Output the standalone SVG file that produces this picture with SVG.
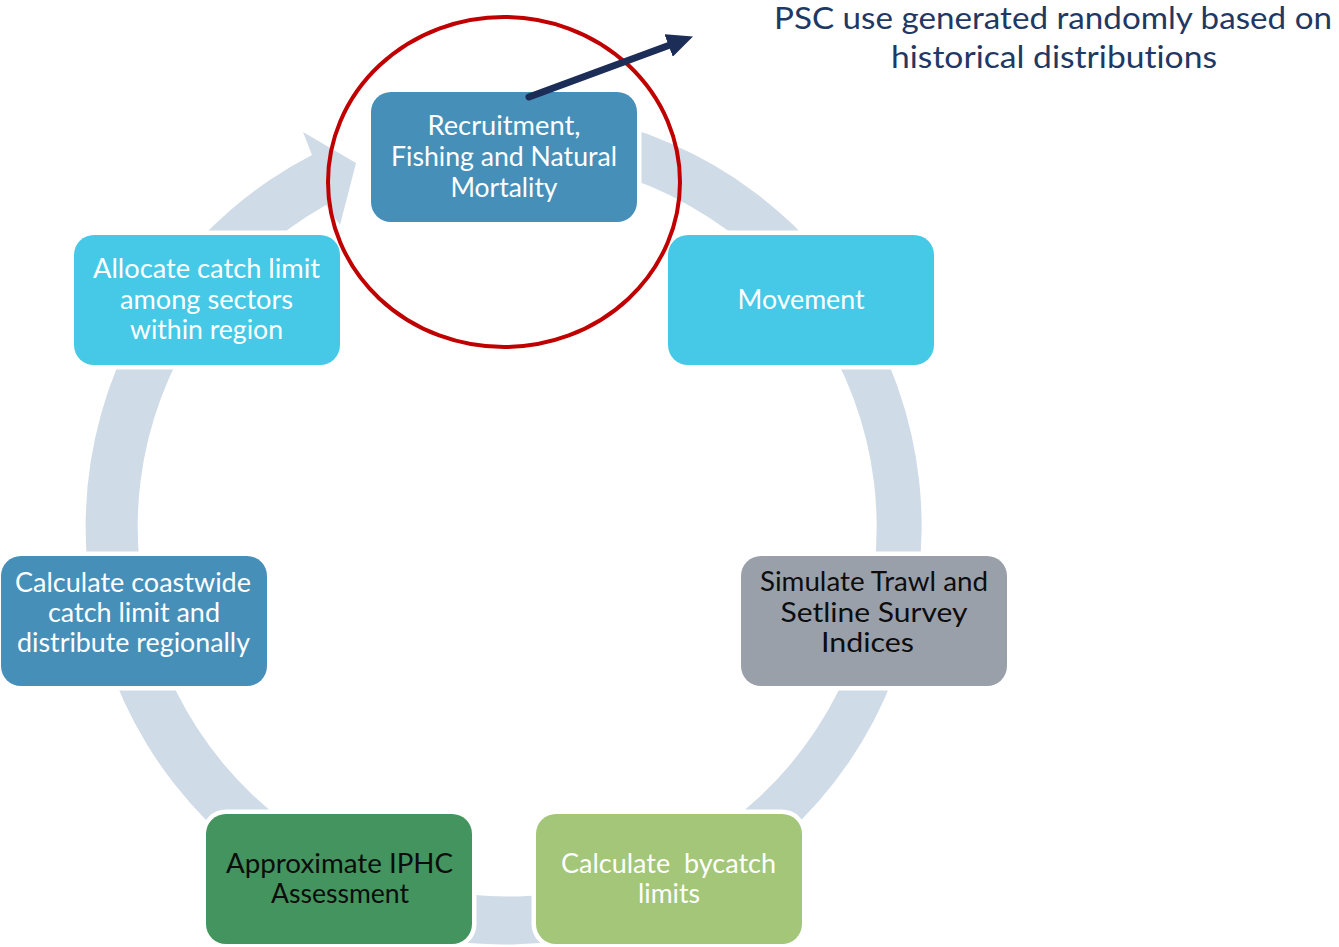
<svg xmlns="http://www.w3.org/2000/svg" width="1339" height="947" viewBox="0 0 1339 947">
  <style>
    text { font-variant-ligatures: none; }
    .box { stroke: #ffffff; stroke-width: 9; paint-order: stroke fill; }
    .lbl { font-family: Lato, "Open Sans", "Liberation Sans", sans-serif; font-size: 26px; text-anchor: middle; }
    .light { fill: #ffffff; }
    .dark { fill: #0d0d0d; }
    .title { font-family: Lato, "Open Sans", "Liberation Sans", sans-serif; font-size: 31px; fill: #1f3864; text-anchor: middle; }
  </style>
  <defs>
    <marker id="navyHead" markerUnits="userSpaceOnUse" viewBox="0 0 26 24" refX="0" refY="12" markerWidth="26" markerHeight="24" orient="auto">
      <path d="M0,0 L26,12 L0,24 Z" fill="#1c2d58"/>
    </marker>
  </defs>

  <rect width="1339" height="947" fill="#ffffff"/>

  <!-- circular flow arrow running clockwise round the cycle -->
  <g id="connectors">
    <path d="M576.6,114.9 A418,418 0 1 1 312,155 L303,132 L356,163 L340,225 L326,205 A369.5,369.5 0 1 0 568.2,162.6 Z" fill="#cfdbe6"/>
  </g>

  <g id="node-recruitment">
    <rect class="box" x="371" y="92" width="266" height="130" rx="20" fill="#468fb9"/>
    <text class="lbl light" x="504" y="135" textLength="153" lengthAdjust="spacingAndGlyphs">Recruitment,</text>
    <text class="lbl light" x="504" y="166" textLength="226" lengthAdjust="spacingAndGlyphs">Fishing and Natural</text>
    <text class="lbl light" x="504" y="197" textLength="107" lengthAdjust="spacingAndGlyphs">Mortality</text>
  </g>

  <g id="node-movement">
    <rect class="box" x="668" y="235" width="266" height="130" rx="20" fill="#45c9e6"/>
    <text class="lbl light" x="801" y="309" textLength="127" lengthAdjust="spacingAndGlyphs">Movement</text>
  </g>

  <g id="node-survey">
    <rect class="box" x="741" y="556" width="266" height="130" rx="20" fill="#99a0aa"/>
    <text class="lbl dark" x="874" y="591" textLength="228" lengthAdjust="spacingAndGlyphs">Simulate Trawl and</text>
    <text class="lbl dark" x="874" y="621.5" textLength="187" lengthAdjust="spacingAndGlyphs">Setline Survey</text>
    <text class="lbl dark" x="867.5" y="652" textLength="93" lengthAdjust="spacingAndGlyphs">Indices</text>
  </g>

  <g id="node-bycatch">
    <rect class="box" x="536" y="814" width="266" height="130" rx="20" fill="#a3c678"/>
    <text class="lbl light" x="668.5" y="873" textLength="215" lengthAdjust="spacingAndGlyphs" xml:space="preserve">Calculate  bycatch</text>
    <text class="lbl light" x="669" y="903" textLength="62" lengthAdjust="spacingAndGlyphs">limits</text>
  </g>

  <g id="node-assessment">
    <rect class="box" x="206" y="814" width="266" height="130" rx="20" fill="#43945e"/>
    <text class="lbl dark" x="339.5" y="873" textLength="227" lengthAdjust="spacingAndGlyphs">Approximate IPHC</text>
    <text class="lbl dark" x="340" y="903" textLength="138" lengthAdjust="spacingAndGlyphs">Assessment</text>
  </g>

  <g id="node-coastwide">
    <rect class="box" x="1" y="556" width="266" height="130" rx="20" fill="#468fb9"/>
    <text class="lbl light" x="133" y="592" textLength="236" lengthAdjust="spacingAndGlyphs">Calculate coastwide</text>
    <text class="lbl light" x="134" y="622" textLength="172" lengthAdjust="spacingAndGlyphs">catch limit and</text>
    <text class="lbl light" x="133.5" y="652" textLength="233" lengthAdjust="spacingAndGlyphs">distribute regionally</text>
  </g>

  <g id="node-allocate">
    <rect class="box" x="74" y="235" width="266" height="130" rx="20" fill="#45c9e6"/>
    <text class="lbl light" x="206.5" y="278" textLength="227" lengthAdjust="spacingAndGlyphs">Allocate catch limit</text>
    <text class="lbl light" x="206.5" y="308.5" textLength="173" lengthAdjust="spacingAndGlyphs">among sectors</text>
    <text class="lbl light" x="206.5" y="339" textLength="153" lengthAdjust="spacingAndGlyphs">within region</text>
  </g>

  <!-- highlight ring and call-out -->
  <g id="highlight">
    <ellipse cx="504" cy="182" rx="176" ry="165" fill="none" stroke="#c00000" stroke-width="4"/>
    <line x1="529" y1="97" x2="668.6" y2="45.5" stroke="#1c2d58" stroke-width="7" stroke-linecap="round" marker-end="url(#navyHead)"/>
  </g>

  <g id="note">
    <text class="title" x="1053" y="29" textLength="558" lengthAdjust="spacingAndGlyphs">PSC use generated randomly based on</text>
    <text class="title" x="1054" y="68" textLength="326" lengthAdjust="spacingAndGlyphs">historical distributions</text>
  </g>
</svg>
